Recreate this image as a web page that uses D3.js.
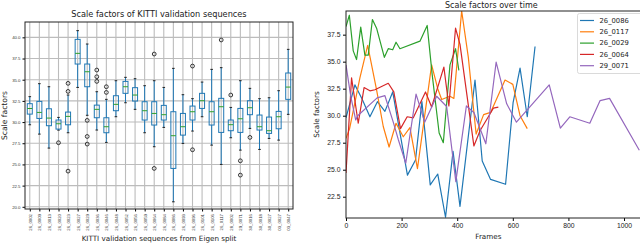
<!DOCTYPE html>
<html>
<head>
<meta charset="utf-8">
<script src="https://cdn.jsdelivr.net/npm/d3@7"></script>
<style>
  body { margin: 0; background: #fff; }
  svg { display: block; font-family: "DejaVu Sans", sans-serif; }
</style>
</head>
<body>
<div id="chart"></div>
<script>
// ---- left panel: box statistics per KITTI sequence ----
const seqLabels = ["26_0002","26_0009","26_0013","26_0020","26_0023","26_0027","26_0029",
  "26_0036","26_0046","26_0048","26_0052","26_0056","26_0059","26_0064","26_0084","26_0086",
  "26_0093","26_0096","26_0101","26_0106","26_0117","28_0002","29_0071","30_0016","30_0018",
  "30_0027","03_0027","03_0047"];
const whiskLo = [29.68,28.58,26.93,29.05,28.74,34.09,30.8,29.06,27.6,30.63,32.28,31.5,28.74,27.09,
  29.37,20.59,27.48,28.94,30.63,27.28,25.0,28.15,26.69,29.25,26.77,28.07,27.87,30.91];
const boxLo = [30.94,30.43,29.57,29.17,29.68,36.85,34.17,30.51,28.74,31.34,33.39,32.48,30.24,29.65,
  30.24,24.53,28.46,30.24,31.61,29.65,28.78,28.98,28.78,30.87,29.06,28.66,29.21,32.68];
const medians = [31.6,31.14,30.47,29.8,30.67,38.11,35.94,31.5,29.45,32.09,34.17,33.19,31.34,31.02,
  30.87,28.39,29.45,31.22,32.52,31.22,31.81,29.69,30.39,31.69,29.45,28.98,30.63,34.13];
const boxHi = [32.17,32.44,31.57,30.24,31.18,39.76,36.85,32.0,30.51,33.11,34.8,34.06,32.4,32.4,
  31.97,31.22,31.02,31.89,33.39,32.4,32.8,30.24,31.61,32.52,30.83,30.59,31.26,35.79];
const whiskHi = [33.0,34.53,34.17,30.55,33.19,40.79,39.21,33.58,32.68,34.88,35.28,35.12,34.29,34.88,
  34.09,36.34,33.23,32.76,34.72,36.22,36.42,31.73,34.88,33.98,32.76,32.87,33.7,38.58];
const fliers = [[],[],[],[27.56],[34.57,33.62,24.21],[],[30.2,28.3,27.4],[36.14,35.35,34.8],
  [34.17,33.5],[],[],[],[],[38.03,24.53],[],[],[],[36.61,26.73],[],[],[39.69],[33.19],
  [25.43,23.74],[28.19],[],[],[],[]];
const boxTicks = [20,22.5,25,27.5,30,32.5,35,37.5,40];

// ---- right panel: scale factor per frame ----
const seriesNames = ["26_0086","26_0117","26_0029","26_0064","29_0071"];
const seq0086 = [[0,29.8],[32,32.85],[57,31.6],[86,29.9],[113,31.3],[140,30.4],[168,32.2],[221,24.5],
  [250,25.9],[273,31.3],[303,23.6],[330,24.6],[358,20.6],[385,26.7],[410,21.6],[464,33.3],[490,25.8],
  [520,24.1],[574,23.65],[601,31.2],[626,34.4],[652,29.9],[680,36.4]];
const seq0117 = [[0,27.9],[13,28.8],[32,31.2],[50,33.5],[78,36.5],[110,32.4],[134,29.0],[155,27.1],
  [180,29.3],[206,28.05],[230,28.9],[257,25.1],[308,34.7],[330,32.5],[344,31.5],[374,31.8],[388,31.6],
  [416,39.69],[440,35.4],[468,28.3],[495,30.1],[520,30.3],[572,33.3],[600,32.9],[626,30.0],[652,28.8]];
const seq0029 = [[0,38.25],[12,39.3],[26,36.0],[38,35.2],[53,38.2],[68,35.6],[80,35.6],[95,38.9],
  [110,38.1],[138,35.4],[152,36.2],[168,36.1],[180,36.8],[194,36.2],[266,36.9],[292,38.35],[310,33.8],
  [335,28.4],[350,27.5],[374,34.7],[394,36.2],[406,34.2]];
const seq0064 = [[0,24.7],[20,33.5],[44,29.3],[65,32.6],[86,32.3],[104,32.4],[152,33.0],[172,32.2],
  [196,28.8],[220,29.9],[242,29.8],[286,32.2],[308,30.8],[352,34.5],[370,30.9],[394,38.1],[410,36.6],
  [460,27.2],[482,28.6],[512,29.9],[530,30.7],[548,30.8]];
const seq0071 = [[0,34.7],[17,31.8],[35,29.6],[42,30.0],[112,31.65],[140,31.85],[170,29.4],[188,27.8],
  [215,25.6],[252,32.0],[283,29.4],[326,31.8],[362,30.85],[395,23.9],[433,30.9],[460,30.3],[503,27.4],
  [540,34.95],[578,31.1],[613,29.4],[731,32.85],[771,28.85],[805,29.9],[877,29.3],[914,31.4],
  [948,31.6],[1055,26.8]];
const seriesData = [seq0086, seq0117, seq0029, seq0064, seq0071];
const seriesColors = ["#1f77b4","#ff7f0e","#2ca02c","#d62728","#9467bd"];
const lineYTicks = [22.5,25,27.5,30,32.5,35,37.5];
const lineXTicks = [0,200,400,600,800,1000];

const svg = d3.select("#chart").append("svg")
  .attr("width", 640)
  .attr("height", 244);

// ================= left: box plot =================
const boxArea = {left: 25, right: 293, top: 22, bottom: 209};
const xBox = d3.scalePoint().domain(seqLabels)
  .range([boxArea.left, boxArea.right]).padding(0.5);
const yBox = d3.scaleLinear().domain([19.74, 41.81])
  .range([boxArea.bottom, boxArea.top]);

const left = svg.append("g");

// grid
left.append("g").selectAll("line.hg").data(boxTicks).enter().append("line")
  .attr("x1", boxArea.left).attr("x2", boxArea.right)
  .attr("y1", d => yBox(d)).attr("y2", d => yBox(d))
  .attr("stroke", "#bcbcbc").attr("stroke-width", 1.1);
left.append("g").selectAll("line.vg").data(seqLabels).enter().append("line")
  .attr("x1", d => xBox(d)).attr("x2", d => xBox(d))
  .attr("y1", boxArea.top).attr("y2", boxArea.bottom)
  .attr("stroke", "#bcbcbc").attr("stroke-width", 1.1);

// axes
left.append("g")
  .attr("transform", "translate(" + boxArea.left + ",0)")
  .call(d3.axisLeft(yBox).tickValues(boxTicks).tickFormat(d3.format(".1f")).tickSize(2.5).tickPadding(2))
  .call(g => g.select(".domain").remove())
  .call(g => g.selectAll("text").attr("font-size", 4.3).attr("fill", "#333"));

left.append("g")
  .attr("transform", "translate(0," + boxArea.bottom + ")")
  .call(d3.axisBottom(xBox).tickSize(2.5))
  .call(g => g.select(".domain").remove())
  .call(g => g.selectAll("text")
    .attr("font-size", 4.3).attr("fill", "#333")
    .attr("text-anchor", "end")
    .attr("dy", "0.35em")
    .attr("transform", "translate(0,5) rotate(-90)")
    .attr("x", 0).attr("y", 0));

// boxes
const boxW = 5, capW = 2.6;
seqLabels.forEach((s, i) => {
  const cx = xBox(s);
  const g = left.append("g");
  g.append("line").attr("x1", cx).attr("x2", cx)
    .attr("y1", yBox(whiskLo[i])).attr("y2", yBox(boxLo[i]))
    .attr("stroke", "#1f77b4").attr("stroke-width", 1);
  g.append("line").attr("x1", cx).attr("x2", cx)
    .attr("y1", yBox(boxHi[i])).attr("y2", yBox(whiskHi[i]))
    .attr("stroke", "#1f77b4").attr("stroke-width", 1);
  [whiskLo[i], whiskHi[i]].forEach(v => {
    g.append("line").attr("x1", cx - capW / 2).attr("x2", cx + capW / 2)
      .attr("y1", yBox(v)).attr("y2", yBox(v))
      .attr("stroke", "#222").attr("stroke-width", 1);
  });
  g.append("rect")
    .attr("x", cx - boxW / 2).attr("width", boxW)
    .attr("y", yBox(boxHi[i])).attr("height", yBox(boxLo[i]) - yBox(boxHi[i]))
    .attr("fill", "none").attr("stroke", "#1f77b4").attr("stroke-width", 1);
  g.append("line").attr("x1", cx - boxW / 2).attr("x2", cx + boxW / 2)
    .attr("y1", yBox(medians[i])).attr("y2", yBox(medians[i]))
    .attr("stroke", "#2ca02c").attr("stroke-width", 1);
  g.selectAll("circle").data(fliers[i]).enter().append("circle")
    .attr("cx", cx).attr("cy", d => yBox(d)).attr("r", 1.9)
    .attr("fill", "none").attr("stroke", "#222").attr("stroke-width", 0.9);
});

left.append("rect")
  .attr("x", boxArea.left).attr("y", boxArea.top)
  .attr("width", boxArea.right - boxArea.left).attr("height", boxArea.bottom - boxArea.top)
  .attr("fill", "none").attr("stroke", "#222").attr("stroke-width", 1);

left.append("text")
  .attr("x", (boxArea.left + boxArea.right) / 2).attr("y", 17)
  .attr("text-anchor", "middle").attr("font-size", 8.2).attr("fill", "#222")
  .text("Scale factors of KITTI validation sequences");
left.append("text")
  .attr("x", (boxArea.left + boxArea.right) / 2).attr("y", 241)
  .attr("text-anchor", "middle").attr("font-size", 7.2).attr("fill", "#222")
  .text("KITTI validation sequences from Eigen split");
left.append("text")
  .attr("transform", "translate(7," + (boxArea.top + boxArea.bottom) / 2 + ") rotate(-90)")
  .attr("text-anchor", "middle").attr("font-size", 7.6).attr("fill", "#222")
  .text("Scale factors");

// ================= right: line chart =================
const lineArea = {left: 346, right: 640.7, top: 11, bottom: 218};
const xLine = d3.scaleLinear().domain([0, 1060]).range([lineArea.left, lineArea.right]);
const yLine = d3.scaleLinear().domain([20.53, 39.69]).range([lineArea.bottom, lineArea.top]);

const right = svg.append("g");

right.append("clipPath").attr("id", "lineClip")
  .append("rect")
  .attr("x", lineArea.left).attr("y", lineArea.top)
  .attr("width", lineArea.right - lineArea.left).attr("height", lineArea.bottom - lineArea.top);

const line = d3.line().x(d => xLine(d[0])).y(d => yLine(d[1]));

right.append("g").attr("clip-path", "url(#lineClip)")
  .selectAll("path").data(seriesData).enter().append("path")
  .attr("d", d => line(d))
  .attr("fill", "none")
  .attr("stroke", (d, i) => seriesColors[i])
  .attr("stroke-width", 1.2)
  .attr("stroke-linejoin", "round");

right.append("g")
  .attr("transform", "translate(" + lineArea.left + ",0)")
  .call(d3.axisLeft(yLine).tickValues(lineYTicks).tickFormat(d3.format(".1f")).tickSize(3).tickPadding(2.5))
  .call(g => g.select(".domain").remove())
  .call(g => g.selectAll("text").attr("font-size", 6.8).attr("fill", "#222"));

right.append("g")
  .attr("transform", "translate(0," + lineArea.bottom + ")")
  .call(d3.axisBottom(xLine).tickValues(lineXTicks).tickFormat(d3.format("d")).tickSize(3).tickPadding(2))
  .call(g => g.select(".domain").remove())
  .call(g => g.selectAll("text").attr("font-size", 6.8).attr("fill", "#222"));

right.append("rect")
  .attr("x", lineArea.left).attr("y", lineArea.top)
  .attr("width", lineArea.right - lineArea.left).attr("height", lineArea.bottom - lineArea.top)
  .attr("fill", "none").attr("stroke", "#222").attr("stroke-width", 1);

right.append("text")
  .attr("x", (lineArea.left + lineArea.right) / 2 - 2).attr("y", 8)
  .attr("text-anchor", "middle").attr("font-size", 8).attr("fill", "#222")
  .text("Scale factors over time");
right.append("text")
  .attr("x", (lineArea.left + lineArea.right) / 2 - 5).attr("y", 239)
  .attr("text-anchor", "middle").attr("font-size", 7.2).attr("fill", "#222")
  .text("Frames");
right.append("text")
  .attr("transform", "translate(319," + (lineArea.top + lineArea.bottom) / 2 + ") rotate(-90)")
  .attr("text-anchor", "middle").attr("font-size", 7.2).attr("fill", "#222")
  .text("Scale factors");

// legend
const legend = right.append("g");
legend.append("rect")
  .attr("x", 577.5).attr("y", 13.5).attr("width", 66).attr("height", 60).attr("rx", 2)
  .attr("fill", "#fff").attr("fill-opacity", 0.85)
  .attr("stroke", "#d0d0d0").attr("stroke-width", 0.8);
seriesNames.forEach((name, i) => {
  const ly = 20.5 + i * 11.3;
  legend.append("line")
    .attr("x1", 580).attr("x2", 594).attr("y1", ly).attr("y2", ly)
    .attr("stroke", seriesColors[i]).attr("stroke-width", 1.2);
  legend.append("text")
    .attr("x", 599.5).attr("y", ly).attr("dy", "0.35em")
    .attr("font-size", 6.8).attr("fill", "#222")
    .text(name);
});
</script>
</body>
</html>
